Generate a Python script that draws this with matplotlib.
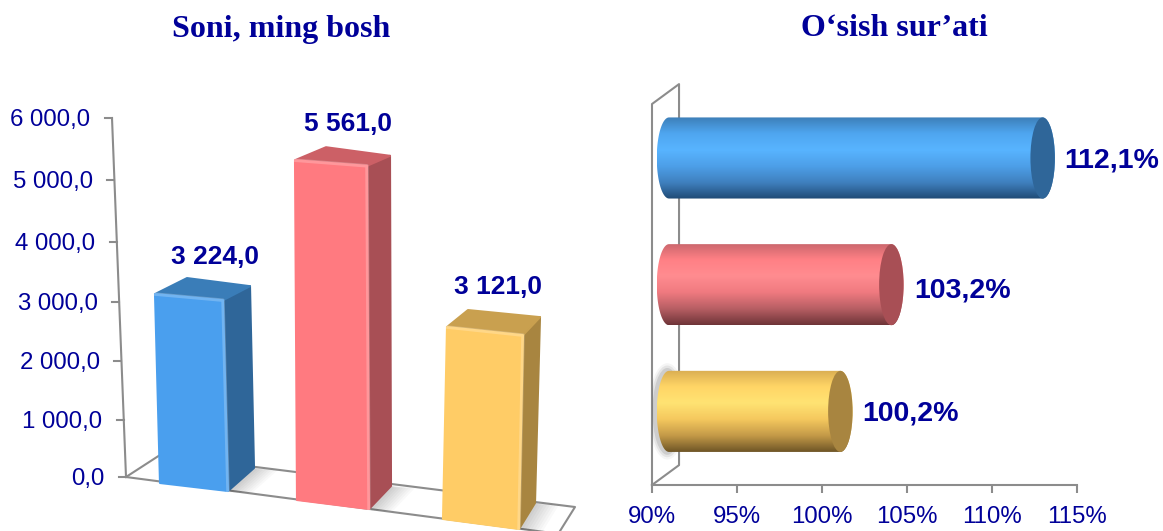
import numpy as np
import matplotlib
matplotlib.use('Agg')
import matplotlib.pyplot as plt
from matplotlib.colors import LinearSegmentedColormap
from matplotlib.patches import Ellipse, Polygon

# data
count_values = [3224.0, 5561.0, 3121.0]
count_ticks = [0, 1000, 2000, 3000, 4000, 5000, 6000]
growth_values = [112.1, 103.2, 100.2]
growth_ticks = [90, 95, 100, 105, 110, 115]

W, H = 1163, 531
NAVY = '#000099'
GRID = '#8c8c8c'
plt.rcParams['font.family'] = ['Liberation Sans', 'DejaVu Sans']


def fmt(v, dec=1):
    # 5561.0 -> "5 561,0"
    return f'{v:,.{dec}f}'.replace(',', ' ').replace('.', ',')


fig = plt.figure(figsize=(W / 100, H / 100), dpi=100)
fig.text(281 / W, 1 - 29 / H, 'Soni, ming bosh', family='Liberation Serif', weight='bold',
         size=23, color=NAVY, ha='center', va='center')
fig.text(894 / W, 1 - 29 / H, 'O‘sish sur’ati', family='Liberation Serif', weight='bold',
         size=23, color=NAVY, ha='center', va='center')

# left chart: 3d look, axes in screen pixels
ax = fig.add_axes([0, 0, 1, 1])
ax.set_xlim(0, W)
ax.set_ylim(H, 0)
ax.axis('off')


def wall_y(v):
    k = v / 1000
    return 477 - (56.83 * k + 0.5 * k * k)


def wall_x(v):
    return 126 - 14 * v / 6000


ax.plot([wall_x(0), wall_x(6000)], [wall_y(0), wall_y(6000)], color=GRID, lw=1.5, zorder=1)
for t in count_ticks:
    ax.plot([wall_x(t) - 7, wall_x(t)], [wall_y(t), wall_y(t)], color=GRID, lw=1.5, zorder=1)
    ax.text(wall_x(t) - 21.5, wall_y(t) + 2, fmt(t), size=17.3, color=NAVY, ha='right', va='center')

# floor
ax.plot([126, 160, 575, 560], [477, 455, 507, 531], color=GRID, lw=1.5, zorder=1)
ax.plot([126, 560], [477, 534], color=GRID, lw=1.5, zorder=1)

# bar layout on screen
bar_left = [160, 297, 443]
bar_right = [228, 369, 519]
base_left = [483, 500, 519]
base_right = [491, 509, 529]
px_per_unit = [0.0586, 0.0611, 0.0615]
lean = [-5, -2, 4]
base_depth = [(26, -23), (22, -23), (16, -26)]
top_depth_r = [(27, -14), (23, -10), (17, -18)]
top_depth_l = [(32, -16), (31, -13), (21, -17)]
front_cols = ['#4a9fee', '#ff7a80', '#ffcc66']
side_cols = ['#2f6699', '#a84f55', '#a88540']
top_cols = ['#3a7db8', '#cc6066', '#c9a04f']
label_x = [215, 348, 498]
label_gap = [37, 36, 40]

for i, v in enumerate(count_values):
    h = v * px_per_unit[i]
    bl = (bar_left[i], base_left[i])
    br = (bar_right[i], base_right[i])
    tl = (bar_left[i] + lean[i], base_left[i] - h)
    tr = (bar_right[i] + lean[i], base_right[i] - h * 1.01)
    back_b = (br[0] + base_depth[i][0], br[1] + base_depth[i][1])
    back_t = (tr[0] + top_depth_r[i][0], tr[1] + top_depth_r[i][1])
    back_l = (tl[0] + top_depth_l[i][0], tl[1] + top_depth_l[i][1])
    # soft shadow on the floor
    for s in range(3, 27, 3):
        ax.add_patch(Polygon([br, back_b, (back_b[0] + s, back_b[1] + 2), (br[0] + s, br[1] + 2)],
                             fc='k', ec='none', alpha=0.022, zorder=2))
    ax.add_patch(Polygon([br, tr, back_t, back_b], fc=side_cols[i], ec=side_cols[i], lw=1.5,
                         joinstyle='round', zorder=3))
    ax.add_patch(Polygon([tl, tr, back_t, back_l], fc=top_cols[i], ec=top_cols[i], lw=1.5,
                         joinstyle='round', zorder=3))
    ax.add_patch(Polygon([bl, br, tr, tl], fc=front_cols[i], ec=front_cols[i], lw=1.5,
                         joinstyle='round', zorder=4))
    # bevel highlight along the front edges
    ax.plot([tl[0], tr[0], br[0]], [tl[1], tr[1], br[1]], color='white', alpha=0.22, lw=2.5,
            solid_joinstyle='round', zorder=5)
    ax.text(label_x[i], tl[1] - label_gap[i], fmt(v), size=19, weight='bold', color=NAVY,
            ha='center', va='center')

# right chart: cylinders on a real axis
ax2 = fig.add_axes([652 / W, 1 - 485 / H, 425 / W, 400 / H])
ax2.patch.set_alpha(0)
ax2.set_xlim(90, 115)
ax2.set_ylim(2.581, -0.576)
ax2.set_yticks([])
for side in ['top', 'left', 'right']:
    ax2.spines[side].set_visible(False)
ax2.spines['bottom'].set_color(GRID)
ax2.spines['bottom'].set_linewidth(1.5)
ax2.set_xticks(growth_ticks)
ax2.set_xticklabels([f'{t}%' for t in growth_ticks], size=17.3, color=NAVY)
ax2.tick_params(axis='x', color=GRID, width=1.5, length=6, pad=9)

# wall behind the bars
back_dx, back_dy = 1.59, 0.157
wall_top, wall_bot = -0.426, 2.581
ax2.plot([90, 90, 90 + back_dx, 90 + back_dx, 90],
         [wall_bot, wall_top, wall_top - back_dy, wall_bot - back_dy, wall_bot],
         color=GRID, lw=1.5, clip_on=False, zorder=1)

cyl_maps = [
    ['#3d7fb8', '#4fa6f0', '#58b4ff', '#4d9fe8', '#3f80be', '#1f4a75'],
    ['#c9666c', '#ff8085', '#ff8c90', '#f07a80', '#b85f64', '#6e3438'],
    ['#d9ad52', '#ffd566', '#ffe373', '#f5c85e', '#c49a48', '#6e5526'],
]
cap_cols = ['#2f6699', '#a84f55', '#a88540']
growth_label_x = [1112, 963, 910]
growth_label_dy = [3, 6, 2]
rx, ry = 0.72, 0.32
depth, start = 0.88, 91.0
theta = np.linspace(-np.pi / 2, np.pi / 2, 60)
grad = np.linspace(0, 1, 256).reshape(-1, 1)

for i, v in enumerate(growth_values):
    end = v + depth
    xs = np.r_[start - rx * np.cos(theta), end + rx * np.cos(theta[::-1])]
    ys = np.r_[i + ry * np.sin(theta), i + ry * np.sin(theta[::-1])]
    if i == 2:
        # grey smudge left of the yellow bar
        for grow, a in [(0.4, 0.06), (0.28, 0.1), (0.15, 0.16)]:
            ax2.add_patch(Ellipse((start - 0.1, i), 2 * (rx + grow), 2 * ry + grow * 0.3,
                                  fc='#555555', ec='none', alpha=a, zorder=2))
    body = Polygon(np.c_[xs, ys], fc='none', ec='none', zorder=3)
    ax2.add_patch(body)
    cm = LinearSegmentedColormap.from_list(f'cyl{i}', cyl_maps[i])
    im = ax2.imshow(grad, cmap=cm, aspect='auto', zorder=3,
                    extent=[start - rx, end + rx, i + ry, i - ry])
    im.set_clip_path(body)
    ax2.add_patch(Ellipse((end, i), 2 * rx, 2 * ry, fc=cap_cols[i], ec='none', zorder=4))
    ax2.text((growth_label_x[i] - 652) / 17 + 90, i + growth_label_dy[i] / 126.7, f'{v:.1f}%'.replace('.', ','),
             size=20.5, weight='bold', color=NAVY, ha='center', va='center', clip_on=False, zorder=5)

ax2.set_xlim(90, 115)
ax2.set_ylim(2.581, -0.576)

fig.savefig('out.png', dpi=100)
